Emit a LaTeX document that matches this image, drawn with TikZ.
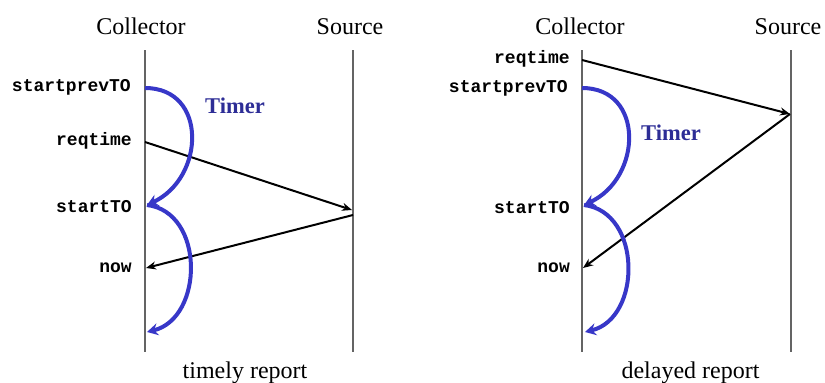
\documentclass[tikz,border=0pt]{standalone}
\usepackage{fontspec}
\setmainfont{Liberation Serif}
\setmonofont{Liberation Mono}
\usetikzlibrary{arrows.meta}
\definecolor{arcblue}{RGB}{55,55,200}
\definecolor{timerblue}{RGB}{45,45,150}
\definecolor{lifegray}{RGB}{100,100,100}
\begin{document}
\begin{tikzpicture}[x=1pt,y=-1pt,
 title/.style={font=\fontsize{24}{28}\selectfont, inner sep=0pt, anchor=base},
 evlabel/.style={font=\ttfamily\bfseries\fontsize{18}{20}\selectfont, inner sep=0pt, anchor=base east},
 timerlabel/.style={font=\bfseries\fontsize{22.5}{26}\selectfont, text=timerblue, inner sep=0pt, anchor=base west},
 lifeline/.style={line width=1.2pt, draw=lifegray},
 msg/.style={line width=2pt, -{Stealth[length=10pt,width=8pt]}},
 timerarc/.style={line width=4pt, draw=arcblue, -{Stealth[length=11pt,width=12pt]}}]
\useasboundingbox (0,0) rectangle (825,383);

% ---------- left panel: timely report ----------
\coordinate (c1t) at (145,50); \coordinate (c1b) at (145,352);
\coordinate (s1t) at (353,50); \coordinate (s1b) at (353,352);
\draw[lifeline] (c1t) -- (c1b);
\draw[lifeline] (s1t) -- (s1b);
\node[title] (col1) at (141,34) {Collector};
\node[title] (src1) at (350,34) {Source};
\node[title] (cap1) at (245,378) {timely report};
\node[timerlabel] (tim1) at (205,113) {Timer};
\node[evlabel] (sp1) at (131,91.5) {startprevTO};
\node[evlabel] (rq1) at (132,145) {reqtime};
\node[evlabel] (st1) at (132,212.5) {startTO};
\node[evlabel] (nw1) at (132,272) {now};
\coordinate (e1sp) at (145,88);
\coordinate (e1rq) at (145,142);
\coordinate (e1st) at (147,205);
\coordinate (e1now) at (146,268);
\coordinate (e1end) at (147,332);
\coordinate (s1in) at (352,210);
\coordinate (s1out) at (353,215);
\draw[msg] (e1rq) -- (s1in);
\draw[msg] (s1out) -- (e1now);
\draw[timerarc] (e1sp) .. controls +(63,0) and +(58,-27) .. (e1st);
\draw[timerarc] (e1st) .. controls +(58,7) and +(57,-14) .. (e1end);

% ---------- right panel: delayed report ----------
\coordinate (c2t) at (582,50); \coordinate (c2b) at (582,352);
\coordinate (s2t) at (791,50); \coordinate (s2b) at (791,352);
\draw[lifeline] (c2t) -- (c2b);
\draw[lifeline] (s2t) -- (s2b);
\node[title] (col2) at (580,34) {Collector};
\node[title] (src2) at (788,34) {Source};
\node[title] (cap2) at (690.5,378) {delayed report};
\node[timerlabel] (tim2) at (641,140) {Timer};
\node[evlabel] (rq2) at (570,63.5) {reqtime};
\node[evlabel] (sp2) at (568,92) {startprevTO};
\node[evlabel] (st2) at (570,213) {startTO};
\node[evlabel] (nw2) at (570,272) {now};
\coordinate (e2rq) at (582,60);
\coordinate (e2sp) at (582,88);
\coordinate (e2st) at (584,205);
\coordinate (e2now) at (583,268);
\coordinate (e2end) at (585,332);
\coordinate (s2pt) at (790,114);
\draw[msg] (e2rq) -- (s2pt);
\draw[msg] (s2pt) -- (e2now);
\draw[timerarc] (e2sp) .. controls +(63,0) and +(58,-27) .. (e2st);
\draw[timerarc] (e2st) .. controls +(58,7) and +(57,-14) .. (e2end);
\end{tikzpicture}
\end{document}
